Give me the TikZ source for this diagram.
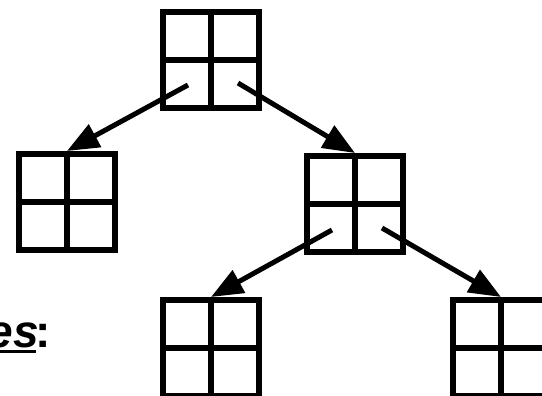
\documentclass[tikz,border=0pt]{standalone}
\usepackage{fontspec}
\setmainfont{Liberation Sans}
\usetikzlibrary{arrows.meta}

\begin{document}
\begin{tikzpicture}[x=1pt,y=-1pt,
    quad/.style={draw,line width=6pt,minimum size=96pt,inner sep=0pt,
      path picture={\draw[line width=6pt]
        (path picture bounding box.north) -- (path picture bounding box.south)
        (path picture bounding box.west) -- (path picture bounding box.east);}},
    link/.style={line width=5pt,-{Triangle[length=32pt,width=25pt]}}]
  \useasboundingbox (0,0) rectangle (542,396);
  % tree
  \node[quad] (root) at (211,60) {};
  \node[quad] (lchild) at (67,202) {};
  \node[quad] (rchild) at (355,204) {};
  \node[quad] (lleaf) at (211,348) {};
  \node[quad] (rleaf) at (501,348) {};
  \draw[link] ([shift={(-23,25)}]root.center) -- (lchild.north);
  \draw[link] ([shift={(27,23)}]root.center) -- (rchild.north);
  \draw[link] ([shift={(-23,26)}]rchild.center) -- (lleaf.north);
  \draw[link] ([shift={(27,24)}]rchild.center) -- (rleaf.north);
  % label
  \node[inner sep=0pt,anchor=base east] (colon) at (51,347)
    {\fontsize{46}{54}\selectfont\bfseries :};
  \node[inner sep=0pt,anchor=base east] (word) at ([xshift=4pt]colon.base west)
    {\fontsize{46}{54}\selectfont\bfseries\itshape Leaves};
  \draw[line width=3pt] ([yshift=-4pt]word.base west) -- ([yshift=-4pt,xshift=-3pt]word.base east);
\end{tikzpicture}
\end{document}
